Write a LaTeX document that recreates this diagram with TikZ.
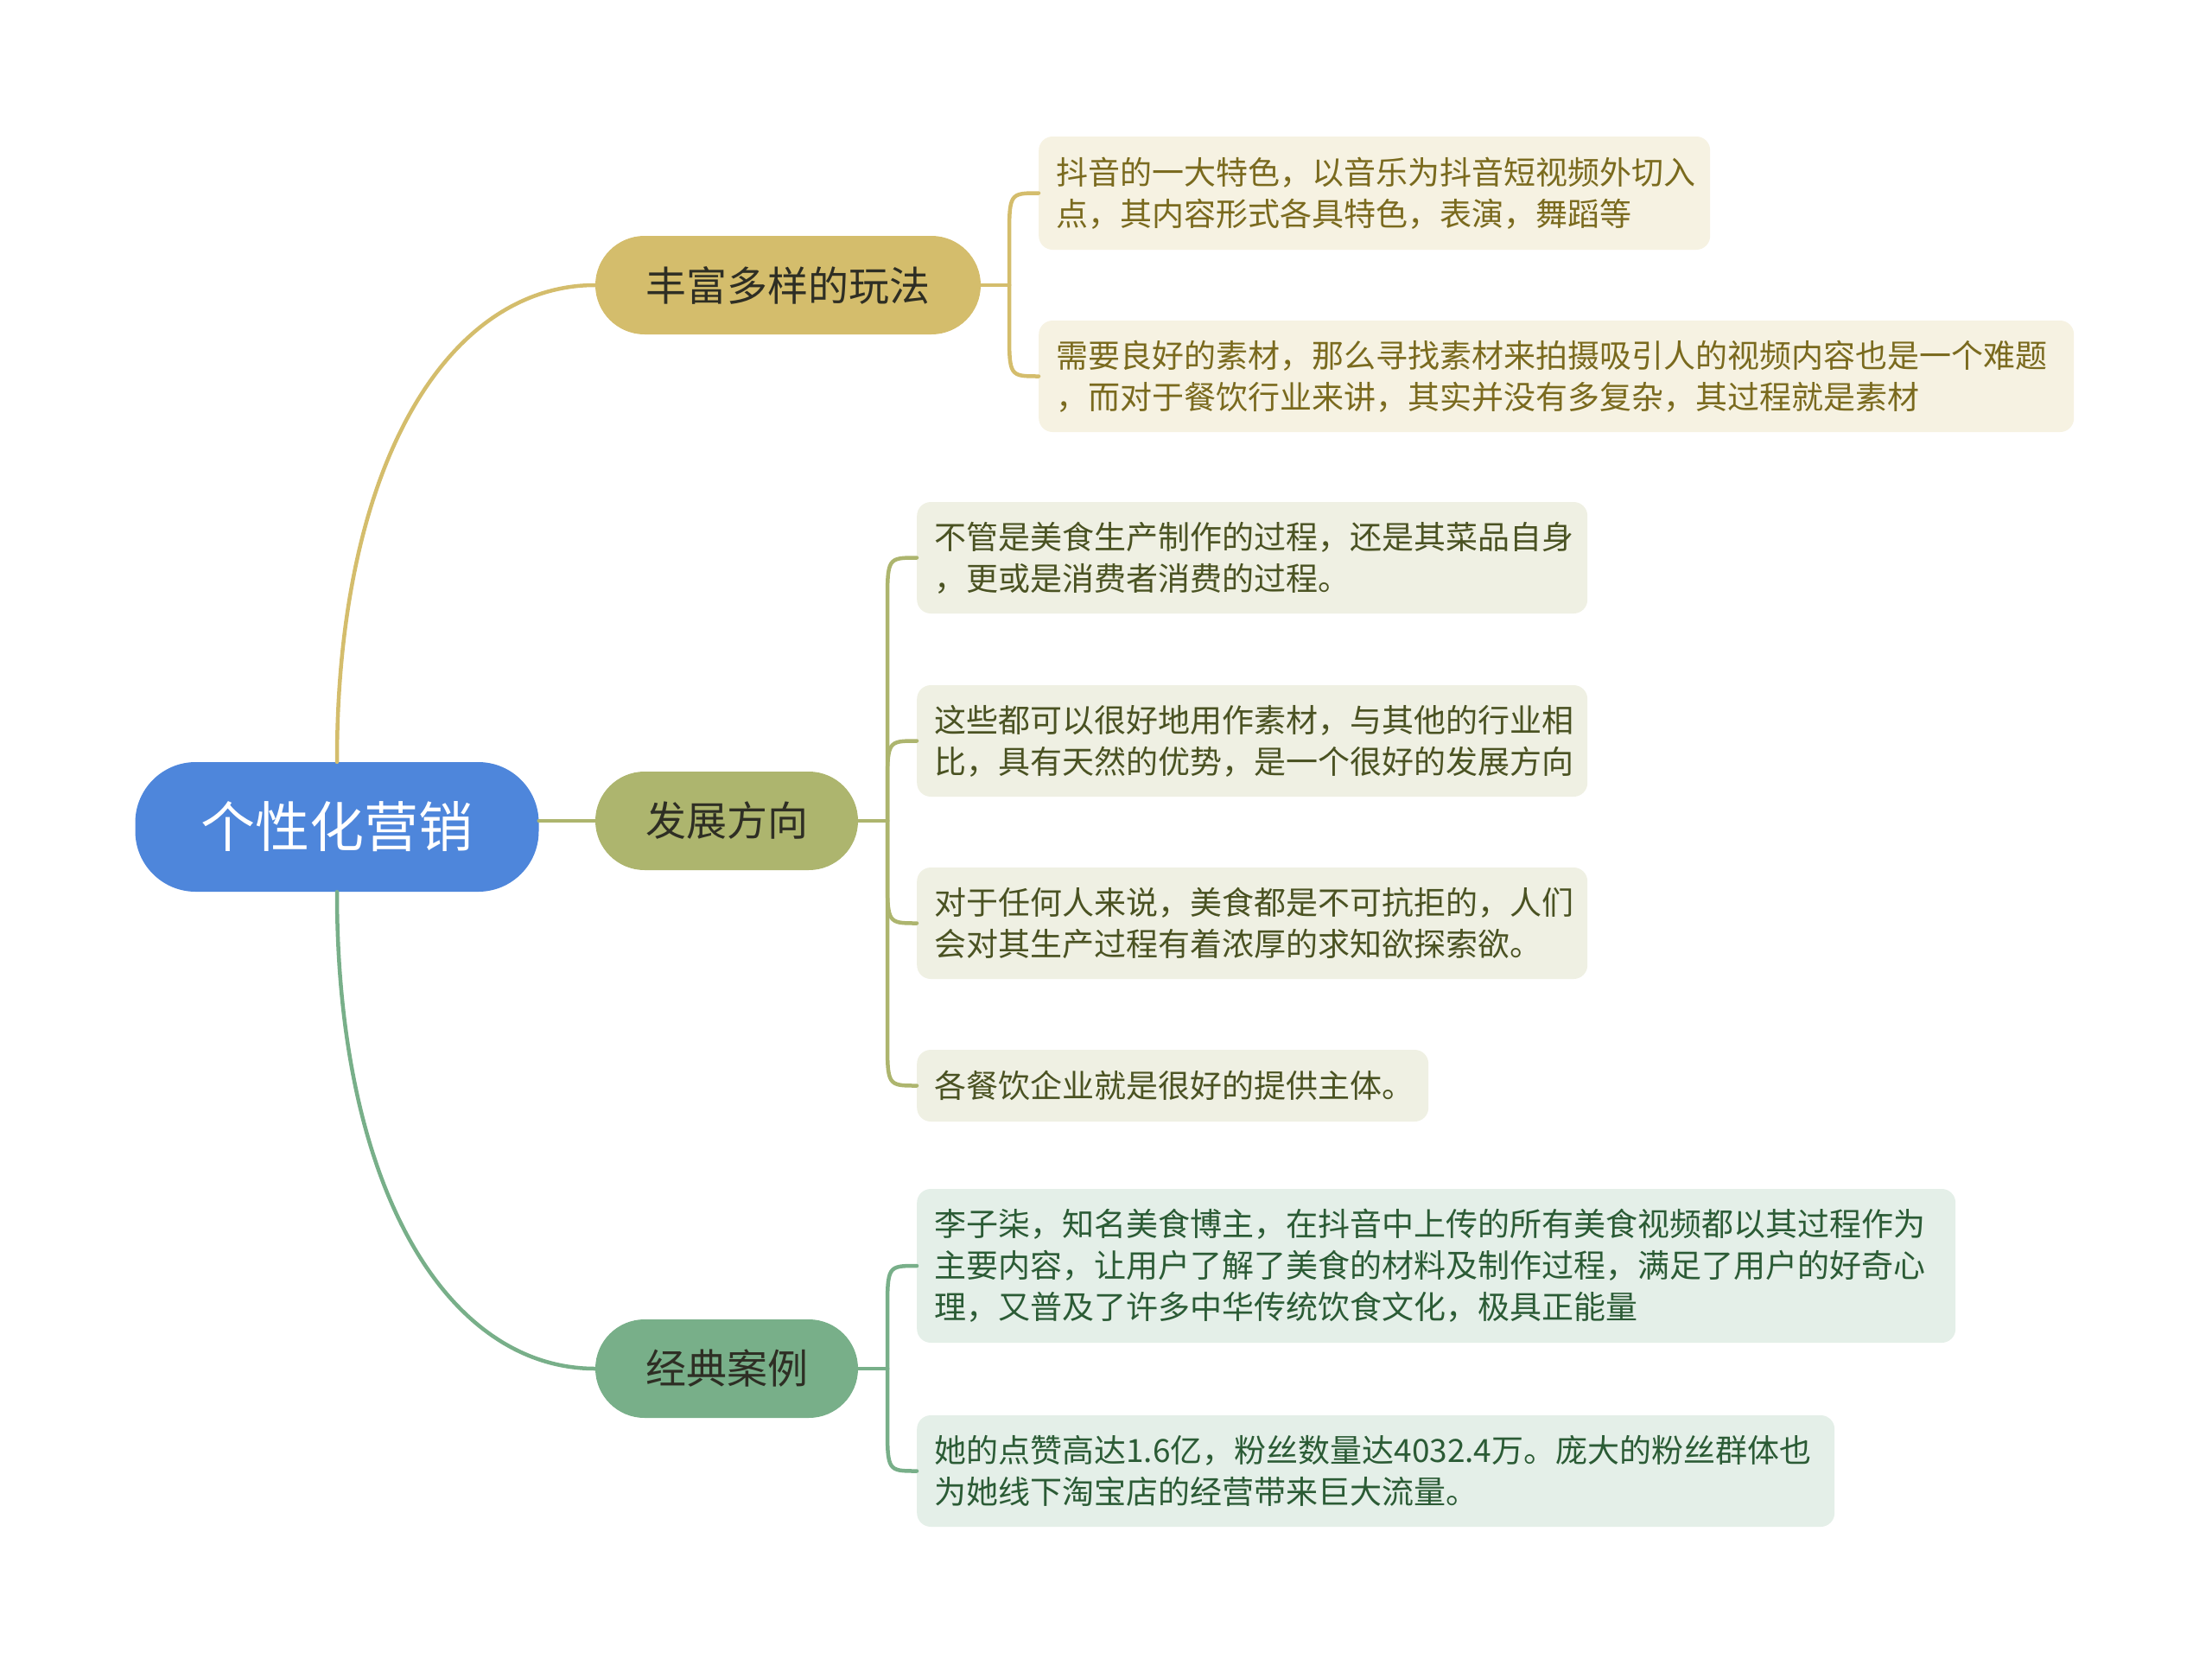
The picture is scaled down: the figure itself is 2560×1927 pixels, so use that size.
\documentclass[tikz,border=0pt]{standalone}
\usepackage{fontspec}
\setmainfont{Noto Sans CJK SC}
\usetikzlibrary{calc}
\definecolor{rootblue}{HTML}{4E86DB}
\definecolor{cgold}{HTML}{D4BD6C}
\definecolor{colive}{HTML}{ADB56E}
\definecolor{cgreen}{HTML}{78AF89}
\definecolor{fgold}{HTML}{F6F2E2}
\definecolor{folive}{HTML}{EFF0E3}
\definecolor{fgreen}{HTML}{E4EFE8}
\definecolor{tgold}{HTML}{7A6A1E}
\definecolor{tolive}{HTML}{4A5222}
\definecolor{tgreen}{HTML}{2B5B35}
\definecolor{tdark}{HTML}{2E2E24}
\begin{document}
\begin{tikzpicture}[x=1pt,y=-1pt,
  rootnode/.style={fill=rootblue,text=white,rounded corners=70pt,minimum width=467pt,minimum height=150pt,inner sep=0pt,font=\fontsize{63}{70}\selectfont},
  branchnode/.style={rounded corners=57pt,minimum height=114pt,inner sep=0pt,text=tdark,font=\fontsize{47}{56}\selectfont},
  leafnode/.style={rounded corners=16pt,anchor=west,align=left,inner xsep=20pt,inner ysep=0pt,font=\fontsize{37}{48}\selectfont},
  leafA/.style={leafnode,fill=fgold,text=tgold},
  leafB/.style={leafnode,fill=folive,text=tolive},
  leafC/.style={leafnode,fill=fgreen,text=tgreen},
  conn/.style={line width=4.5pt,line cap=round}
]
\useasboundingbox (0,0) rectangle (2560,1927);

% root and branches
\node[rootnode] (root) at (390,957) {个性化营销};
\node[branchnode,fill=cgold,minimum width=446pt] (b1) at (912,330) {丰富多样的玩法};
\node[branchnode,fill=colive,minimum width=304pt] (b2) at (841,950) {发展方向};
\node[branchnode,fill=cgreen,minimum width=304pt] (b3) at (841,1584) {经典案例};

% leaves
\node[leafA,text width=737pt,minimum height=131pt] (l1a) at (1202,223.5) {抖音的一大特色，以音乐为抖音短视频外切入\\点，其内容形式各具特色，表演，舞蹈等};
\node[leafA,text width=1158pt,minimum height=129pt] (l1b) at (1202,435.5) {需要良好的素材，那么寻找素材来拍摄吸引人的视频内容也是一个难题\\，而对于餐饮行业来讲，其实并没有多复杂，其过程就是素材};

\node[leafB,text width=736pt,minimum height=129pt] (l2a) at (1061,645.5) {不管是美食生产制作的过程，还是其菜品自身\\，更或是消费者消费的过程。};
\node[leafB,text width=736pt,minimum height=129pt] (l2b) at (1061,857.5) {这些都可以很好地用作素材，与其他的行业相\\比，具有天然的优势，是一个很好的发展方向};
\node[leafB,text width=736pt,minimum height=129pt] (l2c) at (1061,1068.5) {对于任何人来说，美食都是不可抗拒的，人们\\会对其生产过程有着浓厚的求知欲探索欲。};
\node[leafB,text width=552pt,minimum height=83pt] (l2d) at (1061,1256.5) {各餐饮企业就是很好的提供主体。};

\node[leafC,text width=1162pt,minimum height=178pt] (l3a) at (1061,1465) {李子柒，知名美食博主，在抖音中上传的所有美食视频都以其过程作为\\主要内容，让用户了解了美食的材料及制作过程，满足了用户的好奇心\\理，又普及了许多中华传统饮食文化，极具正能量};
\node[leafC,text width=1022pt,minimum height=129pt] (l3b) at (1061,1702.5) {她的点赞高达1.6亿，粉丝数量达4032.4万。庞大的粉丝群体也\\为她线下淘宝店的经营带来巨大流量。};

% trunk points
\coordinate (t1) at (1168,330);
\coordinate (t2) at (1027,950);
\coordinate (t3) at (1027,1584);

% root to branches
\draw[conn,cgold] (root.north) .. controls (390,534) and (520,330) .. (b1.west);
\draw[conn,colive] (root.east |- b2.west) -- (b2.west);
\draw[conn,cgreen] (root.south) .. controls (390,1380) and (520,1584) .. (b3.west);

% branch 1 bracket
\draw[conn,cgold] (b1.east) -- (t1);
\draw[conn,cgold] (t1) -- ($(t1 |- l1a.west)+(0,55)$) .. controls (t1 |- l1a.west) .. (l1a.west);
\draw[conn,cgold] (t1) -- ($(t1 |- l1b.west)+(0,-55)$) .. controls (t1 |- l1b.west) .. (l1b.west);

% branch 2 bracket
\draw[conn,colive] (b2.east) -- (t2);
\draw[conn,colive] (t2) -- ($(t2 |- l2a.west)+(0,55)$) .. controls (t2 |- l2a.west) .. (l2a.west);
\draw[conn,colive] (t2) -- ($(t2 |- l2b.west)+(0,55)$) .. controls (t2 |- l2b.west) .. (l2b.west);
\draw[conn,colive] (t2) -- ($(t2 |- l2c.west)+(0,-55)$) .. controls (t2 |- l2c.west) .. (l2c.west);
\draw[conn,colive] (t2) -- ($(t2 |- l2d.west)+(0,-55)$) .. controls (t2 |- l2d.west) .. (l2d.west);

% branch 3 bracket
\draw[conn,cgreen] (b3.east) -- (t3);
\draw[conn,cgreen] (t3) -- ($(t3 |- l3a.west)+(0,55)$) .. controls (t3 |- l3a.west) .. (l3a.west);
\draw[conn,cgreen] (t3) -- ($(t3 |- l3b.west)+(0,-55)$) .. controls (t3 |- l3b.west) .. (l3b.west);
\end{tikzpicture}
\end{document}
